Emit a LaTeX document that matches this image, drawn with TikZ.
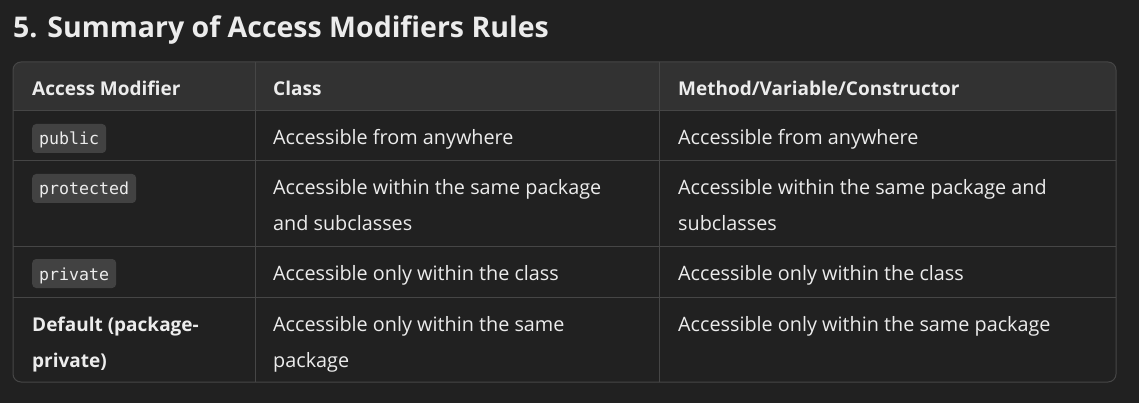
\documentclass[tikz,border=0pt]{standalone}
\usepackage{fontspec}
\setmainfont{Open Sans}
\newfontfamily\monofamily{DejaVu Sans Mono}
\definecolor{pagebg}{RGB}{33,33,33}
\definecolor{headbg}{RGB}{50,50,50}
\definecolor{grid}{RGB}{70,70,70}
\definecolor{pill}{RGB}{66,66,66}
\definecolor{ink}{RGB}{236,236,236}
\newcommand\cellfont{\fontsize{19.8}{36}\selectfont}
\newcommand\boldfont{\fontsize{19}{36}\selectfont\bfseries}
\newcommand\codefont{\monofamily\fontsize{16.6}{20}\selectfont}
\tikzset{
  cell/.style={anchor=base west,inner sep=0pt,align=left,text=ink,font=\cellfont},
  headcell/.style={cell,font=\boldfont},
  code/.style={anchor=base west,fill=pill,rounded corners=4pt,inner xsep=7pt,
               inner ysep=0pt,text height=21pt,text depth=8pt,text=ink,font=\codefont},
  rule/.style={draw=grid,line width=1pt},
}
\begin{document}
\begin{tikzpicture}[x=1pt,y=-1pt]
    % Page
    \fill[pagebg] (0,0) rectangle (1139,403);
    \useasboundingbox (0,0) rectangle (1139,403);

    % Title
    \node[cell,font=\fontsize{28.5}{34}\bfseries] (title) at (13,38)
        {5. Summary of Access Modifiers Rules};

    % Table frame
    \begin{scope}
        \clip[rounded corners=8pt] (13,62) rectangle (1116,382);
        \fill[headbg] (13,62) rectangle (1116,111);
    \end{scope}
    \draw[rule] (13,111) -- (1116,111);
    \draw[rule] (13,161) -- (1116,161);
    \draw[rule] (13,246) -- (1116,246);
    \draw[rule] (13,297) -- (1116,297);
    \draw[rule] (255,62) -- (255,382);
    \draw[rule] (659,62) -- (659,382);
    \draw[rule,rounded corners=8pt] (13,62) rectangle (1116,382);

    % Header
    \node[headcell] (h-mod)    at (32,96)  {Access Modifier};
    \node[headcell] (h-class)  at (273,96) {Class};
    \node[headcell] (h-member) at (678,96) {Method/Variable/Constructor};

    % public
    \node[code] (pub)        at (32,145)  {public};
    \node[cell] (pub-class)  at (273,145) {Accessible from anywhere};
    \node[cell] (pub-member) at (678,145) {Accessible from anywhere};

    % protected (two-line cells sit on their last baseline)
    \node[code] (prot)        at (32,195)  {protected};
    \node[cell] (prot-class)  at (273,231) {Accessible within the same package\\and subclasses};
    \node[cell] (prot-member) at (678,231) {Accessible within the same package and\\subclasses};

    % private
    \node[code] (priv)        at (32,280)  {private};
    \node[cell] (priv-class)  at (273,280) {Accessible only within the class};
    \node[cell] (priv-member) at (678,280) {Accessible only within the class};

    % default
    \node[headcell] (def)     at (32,367)  {Default (package-\\private)};
    \node[cell] (def-class)   at (273,367) {Accessible only within the same\\package};
    \node[cell] (def-member)  at (678,331) {Accessible only within the same package};
\end{tikzpicture}
\end{document}
